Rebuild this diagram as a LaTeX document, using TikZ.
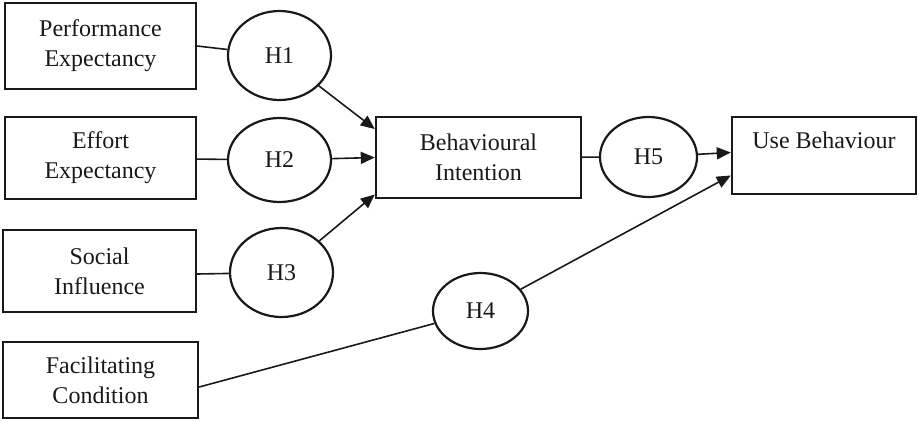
\documentclass[tikz,border=0pt]{standalone}
\usepackage{fontspec}
\setmainfont{Liberation Serif}
\usetikzlibrary{shapes.geometric,arrows.meta}
\begin{document}
\begin{tikzpicture}[x=1pt,y=-1pt,
  every node/.style={font=\fontsize{24}{30}\selectfont, text=black!90},
  box/.style={draw=black!90, line width=2.4pt, rectangle, inner sep=0pt, align=center},
  hyp/.style={draw=black!90, line width=2.2pt, ellipse, inner sep=0pt},
  conn/.style={draw=black!90, line width=1.6pt},
  arr/.style={conn, -{Triangle[length=14pt,width=12pt]}}]
\useasboundingbox (0,0) rectangle (919,421);
% boxes
\node[box, minimum width=191pt, minimum height=86pt] (PE) at (100.5,46) {Performance\\Expectancy};
\node[box, minimum width=191pt, minimum height=82pt] (EE) at (100.5,158) {Effort\\Expectancy};
\node[box, minimum width=193pt, minimum height=82pt] (SI) at (99.5,271) {Social\\Influence};
\node[box, minimum width=195pt, minimum height=76pt] (FC) at (100.5,380) {Facilitating\\Condition};
\node[box, minimum width=205pt, minimum height=81pt] (BI) at (478.5,157.5) {Behavioural\\Intention};
\node[box, minimum width=184pt, minimum height=77pt] (UB) at (824,155.5) {Use Behaviour\\\mbox{}};
% hypotheses
\node[hyp, minimum width=103pt, minimum height=89pt] (H1) at (279.5,55.5) {H1};
\node[hyp, minimum width=103pt, minimum height=84pt] (H2) at (279.5,160) {H2};
\node[hyp, minimum width=103pt, minimum height=89pt] (H3) at (281.5,272.5) {H3};
\node[hyp, minimum width=95pt, minimum height=76pt] (H4) at (480.5,311) {H4};
\node[hyp, minimum width=97pt, minimum height=80pt] (H5) at (648.5,157) {H5};
% connectors
\draw[conn] (PE.east) -- (H1);
\draw[conn] (EE) -- (H2);
\draw[conn] ([yshift=-3pt]SI.east) -- (H3);
\draw[conn] ([yshift=-7pt]FC.east) -- (H4);
\draw[conn] (BI) -- (H5);
\draw[arr] (H1) -- ([yshift=28.5pt]BI.west);
\draw[arr] (H2) -- (BI.west);
\draw[arr] (H3) -- ([yshift=-37pt]BI.west);
\draw[arr] (H5) -- ([yshift=3pt]UB.west);
\draw[arr] (H4) -- ([yshift=-20pt]UB.west);
\end{tikzpicture}
\end{document}
